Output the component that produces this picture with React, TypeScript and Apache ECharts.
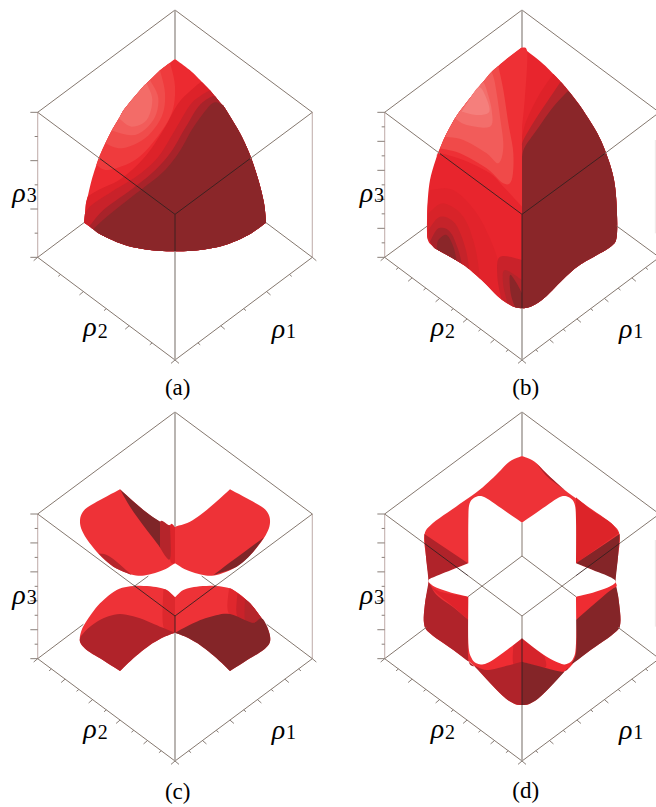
import React, { useEffect, useRef } from "react";
import * as echarts from "echarts";

type P = [number, number];
type Face = { fill: string; segs: P[][] };
type L = [number, number, number, number];

const RED = "#ec2a30", BRIGHT = "#ee3237", DARK = "#8a2629", DARKL = "#a8232a", MID = "#c9222a", DEEP = "#dd2229";

// ---- panel (a) ----
const aR: P[] = [[525,177],[540,188],[575,215],[605,245],[630,271],[645,289],[665,313],[675,325],[720,400],[750,465],[775,540],[792,610],[798,668]];
const aBot: P[] = [[798,668],[745,705],[675,735],[600,750],[525,754],[450,750],[375,735],[305,705],[280,688],[268,679],[252,668]];
const aL: P[] = [[252,668],[255,640],[258,610],[263,590],[275,540],[289,495],[300,465],[316,430],[335,392],[357,355],[375,325],[425,265],[440,250],[450,240],[480,211],[510,188],[525,177]];
const fromVertex = (arc: P[], v: P) => arc.slice(arc.findIndex((p) => p[0] === v[0] && p[1] === v[1]));
const toVertex = (arc: P[], v: P) => arc.slice(0, arc.findIndex((p) => p[0] === v[0] && p[1] === v[1]) + 1);
const aFill = (fill: string, inner: P[]): Face => {
  const s = inner[0], e = inner[inner.length - 1];
  const onLeft = aL.some((p) => p[0] === e[0] && p[1] === e[1]);
  return {
    fill,
    segs: onLeft
      ? [inner, toVertex(aL, e).reverse(), [...aBot].reverse(), fromVertex(aR, s).reverse()]
      : [inner, toVertex(aBot, e).reverse(), fromVertex(aR, s).reverse()],
  };
};
const aLight = (fill: string, start: P, end: P, inner: P[]): Face => ({
  fill,
  segs: [fromVertex(toVertex(aL, start), end), [start, ...inner, end]],
});
const aFaces: Face[] = [
  { fill: RED, segs: [aR, aBot, aL] },
  aFill(DEEP, [[605,245],[585,260],[535,310],[490,390],[435,470],[365,535],[295,570],[263,590]]),
  aFill(MID, [[630,271],[605,285],[570,315],[525,390],[475,470],[415,525],[335,575],[275,615],[255,640]]),
  aFill(DARKL, [[645,289],[630,292],[595,320],[555,385],[510,460],[455,520],[385,575],[310,630],[268,679]]),
  aFill(DARK, [[665,313],[640,308],[610,340],[575,390],[535,460],[485,520],[415,575],[345,630],[300,668],[280,688]]),
  aLight("#ef3b3d", [510,188], [289,495], [[525,260],[515,340],[465,420],[405,480],[325,510]]),
  aLight("#f04c4b", [480,211], [316,430], [[495,280],[485,350],[435,415],[365,445]]),
  aLight("#f25c5a", [450,240], [335,392], [[475,295],[460,360],[405,405]]),
  aLight("#f36c68", [440,250], [357,355], [[457,300],[440,360],[395,380]]),
];
const aGrey: L[] = [[113,337,300,476],[937,337,750,476],[252,668,113,772],[798,668,937,772],[525,30,113,337],[525,30,937,337],[113,772,525,1080],[525,1080,937,772]];
const aDarkLines: L[] = [[300,476,525,643],[750,476,525,643],[525,643,525,754]];
const aThick: L[] = [[525,30,525,177],[525,754,525,1080]];
const aPink: L[] = [[113,337,113,772],[937,337,937,772]];

// ---- panel (b) ----
const bR: P[] = [[582,142],[638,185],[676,222],[698,245],[721,272],[758,320],[808,400],[838,470],[858,540],[866,620],[866,710],[848,740],[798,770],[748,800],[698,845],[648,895],[608,920],[582,925]];
const bL: P[] = [[582,925],[556,920],[516,895],[466,845],[456,836],[424,808],[416,800],[401,791],[386,782],[366,770],[326,748],[316,740],[306,725],[298,710],[298,690],[298,620],[306,540],[326,470],[336,445],[351,410],[356,400],[381,355],[406,320],[451,262],[466,245],[491,215],[511,198],[526,185],[582,142]];
const bRLower: P[] = [[582,925],[608,920],[648,895],[698,845],[748,800],[798,770],[848,740],[866,710],[866,620],[858,540],[838,470],[808,400],[758,320]];
const bFaces: Face[] = [
  { fill: "#e8252d", segs: [bR, bL] },
  { fill: "#ee3035", segs: [[[326,470],[336,445],[351,410],[381,355],[406,320],[466,245],[526,185],[582,142]], [[582,142],[598,160],[590,300],[582,380]], [[582,380],[582,620]], [[582,620],[526,560],[486,520],[406,480],[336,460],[326,470]]] },
  { fill: "#f04a49", segs: [[[336,445],[351,410],[381,355],[406,320],[466,245],[491,215],[511,198]], [[511,198],[526,270],[541,370],[556,460],[551,540],[526,550],[476,505],[396,460],[336,445]]] },
  { fill: "#f25c5a", segs: [[[351,410],[381,355],[406,320],[466,245],[491,215]], [[491,215],[501,250],[516,350],[526,440],[511,490],[476,460],[406,420],[351,410]]] },
  { fill: "#f36e6b", segs: [[[381,355],[406,320],[451,262],[466,245]], [[466,245],[476,270],[491,330],[486,380],[416,375],[381,355]]] },
  { fill: "#f57f7c", segs: [[[401,335],[420,305],[451,262],[471,285],[484,335],[446,345],[401,335]]] },
  { fill: "#de2229", segs: [[[676,222],[636,280],[596,360],[582,410]], [[582,410],[582,925]], bRLower, [[758,320],[721,272],[698,245],[676,222]]] },
  { fill: "#b5252b", segs: [[[698,245],[671,285],[621,360],[586,420],[582,440]], [[582,440],[582,925]], bRLower, [[758,320],[721,272],[698,245]]] },
  { fill: DARK, segs: [[[721,272],[676,320],[626,390],[591,440],[582,470]], [[582,470],[582,925]], bRLower, [[758,320],[721,272]]] },
  { fill: "#e2232b", segs: [[[306,570],[376,570],[446,640],[496,740],[526,840],[540,908]], [[540,908],[516,895],[466,845],[416,800],[366,770],[316,740],[298,710],[299,620],[306,570]]] },
  { fill: "#d82329", segs: [[[301,640],[346,610],[406,650],[441,740],[456,836]], [[456,836],[424,808],[401,791],[366,770],[326,748],[316,740],[306,725],[298,710],[301,640]]] },
  { fill: "#c5232a", segs: [[[301,690],[336,650],[381,670],[411,740],[424,808]], [[424,808],[401,791],[366,770],[326,748],[316,740],[306,725],[301,690]]] },
  { fill: DARKL, segs: [[[306,725],[331,685],[366,695],[391,750],[401,791]], [[401,791],[386,782],[366,770],[326,748],[316,740],[306,725]]] },
  { fill: DARK, segs: [[[326,748],[331,720],[356,705],[376,740],[386,782]], [[386,782],[366,770],[326,748]]] },
  { fill: MID, segs: [[[520,898],[508,830],[516,770],[582,780]], [[582,780],[582,925]], [[582,925],[556,920],[520,898]]] },
  { fill: "#b5252b", segs: [[[538,908],[525,850],[531,810],[582,840]], [[582,840],[582,925]], [[582,925],[556,920],[538,908]]] },
  { fill: DARK, segs: [[[561,922],[548,880],[546,825],[566,850],[582,880]], [[582,880],[582,925]]] },
];
const bGrey: L[] = [[582,30,170,337],[582,30,994,337],[170,772,582,1080],[582,1080,994,772],[170,337,336,461],[994,337,830,461],[298,678,170,772],[866,678,994,772]];
const bDarkLines: L[] = [[336,461,582,643],[830,461,582,643],[582,643,582,925]];
const bThick: L[] = [[582,30,582,142],[582,925,582,1080]];
const bPink: L[] = [[170,337,170,772]];
const bPale: L[] = [[982,420,982,700]];

// ---- panel (c) ----
const cTopLeft: P[] = [[360,268],[300,300],[255,328],[240,360],[250,400],[290,455],[340,500],[400,525],[440,525],[490,510],[525,490]];
const cTopLeftBack: P[] = [[525,380],[480,365],[430,330],[360,268]];
const cTopRight: P[] = [[690,268],[750,300],[795,328],[810,360],[800,400],[760,455],[710,500],[650,525],[610,525],[560,510],[525,490]];
const cTopRightBack: P[] = [[525,380],[570,365],[620,330],[690,268]];
const cLowLeftUpper: P[] = [[525,592],[500,570],[460,560],[400,558],[350,570],[300,610],[265,655],[245,690],[240,725],[260,750],[300,775],[360,813]];
const cLowLeftLower: P[] = [[360,813],[400,775],[450,735],[490,712],[525,698]];
const cLowRightUpper: P[] = [[525,592],[550,570],[590,560],[650,558],[700,570],[750,610],[785,655],[805,690],[810,725],[790,750],[750,775],[690,813]];
const cLowRightLower: P[] = [[690,813],[650,775],[600,735],[560,712],[525,698]];
const cFaces: Face[] = [
  { fill: BRIGHT, segs: [cTopLeft, [[525,490],[525,380]], cTopLeftBack] },
  { fill: BRIGHT, segs: [cTopRight, [[525,490],[525,380]], cTopRightBack] },
  { fill: "#dd242a", segs: [[[525,380],[510,378],[510,478],[525,490]]] },
  { fill: "#b5252b", segs: [[[505,376],[480,365],[478,440]], [[478,440],[510,478],[510,376]]] },
  { fill: "#7f2528", segs: [[[360,268],[400,335],[480,442]], [[480,442],[480,365]], [[480,365],[430,330],[360,268]]] },
  { fill: "#b5252b", segs: [[[295,460],[330,470],[395,525]], [[395,525],[340,500],[295,460]]] },
  { fill: "#7f2528", segs: [[[792,412],[700,480],[640,525]], [[640,525],[710,500],[760,455],[800,400]]] },
  { fill: BRIGHT, segs: [cLowLeftUpper, cLowLeftLower, [[525,698],[525,592]]] },
  { fill: BRIGHT, segs: [cLowRightUpper, cLowRightLower, [[525,698],[525,592]]] },
  { fill: "#dd282d", segs: [[[490,568],[500,570],[525,592]], [[525,592],[525,698]], [[525,698],[490,680],[490,568]]] },
  { fill: "#e0272d", segs: [[[687,565],[700,570],[750,610],[785,655]], [[785,655],[756,668],[687,642],[687,565]]] },
  { fill: MID, segs: [[[712,580],[750,610],[785,655]], [[785,655],[756,668],[712,650],[712,580]]] },
  { fill: "#b5252b", segs: [[[735,598],[750,610],[785,655]], [[785,655],[756,668],[735,660],[735,598]]] },
  { fill: "#b0232a", segs: [[[243,708],[270,680],[310,655],[360,642],[420,655],[480,680],[525,698]], [...cLowLeftLower].reverse(), [[360,813],[300,775],[260,750],[240,725],[243,708]]] },
  { fill: "#842528", segs: [[[525,698],[590,665],[640,648],[690,642],[756,668],[785,655],[805,690],[810,725],[790,750],[750,775],[690,813]], cLowRightLower] },
];
const cGrey: L[] = [[525,36,113,342],[525,36,937,342],[113,776,525,1083],[525,1083,937,776],[113,342,400,555],[937,342,650,555],[445,528,400,561],[605,528,650,561],[250,673,113,776],[800,673,937,776]];
const cDarkLines: L[] = [[400,555,525,648],[650,555,525,648],[525,648,525,698]];
const cThick: L[] = [[525,36,525,380],[525,698,525,1083]];
const cPink: L[] = [[113,342,113,776],[937,342,937,776]];

// ---- panel (d) ----
const dOutline: P[] = [[582,168],[620,185],[660,225],[710,270],[780,320],[850,370],[875,405],[870,470],[862,545],[872,600],[877,670],[858,700],[788,750],[723,800],[648,880],[608,910],[582,915],[556,910],[516,880],[441,800],[376,750],[306,700],[288,670],[291,610],[302,545],[294,470],[289,405],[314,370],[384,320],[454,270],[504,225],[544,185],[582,168]];
const dFaces: Face[] = [
  { fill: BRIGHT, segs: [dOutline] },
  { fill: "#dd2429", segs: [[[744,292],[790,330],[850,370],[872,400]], [[872,400],[744,490]]] },
  { fill: "#a8232a", segs: [[[625,190],[660,225],[710,270]], [[710,270],[660,232],[625,190]]] },
  { fill: "#b0232a", segs: [[[289,402],[420,490]], [[420,490],[370,510],[302,545]], [[302,545],[294,470],[289,402]]] },
  { fill: "#842528", segs: [[[875,402],[744,490]], [[744,490],[794,510],[862,545]], [[862,545],[870,470],[875,402]]] },
  { fill: "#e0232b", segs: [[[301,550],[336,575],[421,590]], [[421,590],[421,660]], [[421,660],[376,620],[326,580],[301,550]]] },
  { fill: "#b0232a", segs: [[[302,545],[326,585],[376,622],[421,660]], [[421,660],[421,780],[441,800]], [[441,800],[376,750],[306,700],[288,670],[291,610],[302,545]]] },
  { fill: "#ef2c32", segs: [[[744,590],[800,578],[861,545]], [[861,545],[865,560],[836,580]], [[836,580],[744,660]]] },
  { fill: "#842528", segs: [[[744,660],[836,580],[865,560]], [[865,560],[872,600],[877,670],[858,700],[788,750],[723,800]], [[723,800],[744,760],[744,660]]] },
  { fill: "#ef2c32", segs: [[[441,798],[476,790],[516,765],[582,715]], [[582,715],[582,785]], [[582,785],[526,800],[476,810],[441,798]]] },
  { fill: "#d5242b", segs: [[[556,735],[582,715]], [[582,715],[582,785]], [[582,785],[556,792],[556,735]]] },
  { fill: "#ee2a30", segs: [[[640,760],[696,790],[736,790]], [[736,790],[706,815],[656,805],[640,800],[640,760]]] },
  { fill: "#d5242b", segs: [[[582,715],[620,745],[650,770]], [[650,770],[650,803],[582,785]]] },
  { fill: "#b0232a", segs: [[[441,798],[476,810],[526,800],[582,785]], [[582,785],[582,915]], [[582,915],[556,910],[516,880],[441,800]]] },
  { fill: "#842528", segs: [[[582,785],[656,805],[706,815],[723,800]], [[723,800],[648,880],[608,910],[582,915]]] },
  { fill: "#ffffff", segs: [
    [[582,368],[520,325],[470,292],[445,290],[425,310],[421,360],[421,490]],
    [[421,490],[370,510],[320,530],[301,542],[320,560],[370,578],[421,590]],
    [[421,590],[421,730],[431,775],[451,792],[476,790],[516,765],[582,715]],
    [[582,715],[648,765],[696,790],[716,792],[736,775],[744,730],[744,590]],
    [[744,590],[794,578],[844,560],[863,545],[844,530],[794,510],[744,490]],
    [[744,490],[744,360],[739,310],[719,290],[694,292],[644,325],[582,368]],
  ] },
];
const dGrey: L[] = [[582,36,170,342],[582,36,994,342],[170,776,582,1083],[582,1083,994,776],[170,342,289,430],[994,342,875,430],[420,527,582,648],[744,527,582,648],[582,368,582,468],[582,468,420,590],[582,468,744,590],[295,682,170,776],[870,682,994,776],[582,648,582,715]];
const dDarkLines: L[] = [[289,430,420,527],[875,430,744,527],[582,715,582,915]];
const dThick: L[] = [[582,36,582,168],[582,915,582,1083]];
const dPink: L[] = [[170,342,170,776]];
const dPale: L[] = [[982,420,982,680]];

// ---- axis tick counts and cube corners [left, centre, right, upper, lower, bottom] ----
const aCube = [113, 525, 937, 337, 772, 1080];
const bCube = [170, 582, 994, 337, 772, 1080];
const cCube = [113, 525, 937, 342, 776, 1083];
const dCube = [170, 582, 994, 342, 776, 1083];
const tickCounts = [6, 10, 10, 10];

// ---- texts ----
const rhoLabels = ["ρ", "ρ", "ρ"];
const subLabels = ["3", "2", "1"];
const captions = ["(a)", "(b)", "(c)", "(d)"];
const rhoPosA: P[] = [[37,578],[250,980],[815,984]];
const subPosA: P[] = [[80,586],[293,992],[858,992]];
const rhoPosB: P[] = [[95,578],[308,980],[873,984]];
const subPosB: P[] = [[138,586],[351,992],[916,992]];
const rhoPosC: P[] = [[37,582],[250,985],[815,989]];
const subPosC: P[] = [[80,590],[293,997],[858,997]];
const rhoPosD: P[] = [[95,582],[308,985],[873,989]];
const subPosD: P[] = [[138,590],[351,997],[916,997]];
const captionPos: P[] = [[533,1163],[593,1163],[533,1173],[593,1170]];

function sample(seg: P[]): P[] {
  if (seg.length < 3) return seg;
  const out: P[] = [];
  for (let i = 0; i < seg.length - 1; i++) {
    const p0 = seg[Math.max(0, i - 1)], p1 = seg[i], p2 = seg[i + 1], p3 = seg[Math.min(seg.length - 1, i + 2)];
    for (let k = 0; k < 6; k++) {
      const t = k / 6, t2 = t * t, t3 = t2 * t;
      out.push([
        0.5 * (2 * p1[0] + (p2[0] - p0[0]) * t + (2 * p0[0] - 5 * p1[0] + 4 * p2[0] - p3[0]) * t2 + (3 * p1[0] - p0[0] - 3 * p2[0] + p3[0]) * t3),
        0.5 * (2 * p1[1] + (p2[1] - p0[1]) * t + (2 * p0[1] - 5 * p1[1] + 4 * p2[1] - p3[1]) * t2 + (3 * p1[1] - p0[1] - 3 * p2[1] + p3[1]) * t3),
      ]);
    }
  }
  out.push(seg[seg.length - 1]);
  return out;
}

function ticks(cube: number[], n: number) {
  const [l, c, r, u, lo, b] = cube;
  const out: L[] = [];
  for (let i = 0; i <= n; i++) {
    const f = i / n;
    const isMajor = i % 2 === 0;
    const yLeft = u + (lo - u) * f;
    out.push([l, yLeft, l - (isMajor ? 22 : 9), yLeft]);
    const len = isMajor ? 12 : 7;
    const x2 = l + (c - l) * f, y2 = lo + (b - lo) * f;
    out.push([x2, y2, x2 - len, y2 + len * 0.85]);
    const x1 = c + (r - c) * f, y1 = b + (lo - b) * f;
    out.push([x1, y1, x1 + len, y1 + len * 0.85]);
  }
  return out;
}

function faceSeries(idx: number, faces: Face[]) {
  return {
    type: "custom", xAxisIndex: idx, yAxisIndex: idx, silent: true, clip: false, z: 2,
    data: faces.map((_, i) => [i]),
    renderItem: (params: any, api: any) => {
      const f = faces[params.dataIndex];
      const pts: number[][] = [];
      f.segs.forEach((s) => sample(s).forEach((p) => pts.push(api.coord(p))));
      return { type: "polygon", shape: { points: pts }, style: { fill: f.fill } };
    },
  };
}

function lineSeries(idx: number, lines: L[], color: string, width: number) {
  return {
    type: "custom", xAxisIndex: idx, yAxisIndex: idx, silent: true, clip: false, z: 3,
    data: lines,
    renderItem: (_: any, api: any) => {
      const a = api.coord([api.value(0), api.value(1)]);
      const b = api.coord([api.value(2), api.value(3)]);
      return { type: "line", shape: { x1: a[0], y1: a[1], x2: b[0], y2: b[1] }, style: { stroke: color, lineWidth: width, fill: null } };
    },
  };
}

function textSeries(idx: number, items: string[], pos: P[], font: string, align: string) {
  return {
    type: "custom", xAxisIndex: idx, yAxisIndex: idx, silent: true, clip: false, z: 5,
    data: pos,
    renderItem: (params: any, api: any) => {
      const a = api.coord([api.value(0), api.value(1)]);
      return { type: "text", style: { text: items[params.dataIndex], x: a[0], y: a[1], font, fill: "#000", align, verticalAlign: "middle" } };
    },
  };
}

const panels = [
  { faces: aFaces, grey: aGrey, dark: aDarkLines, thick: aThick, pink: aPink, pale: [] as L[], cube: aCube, rho: rhoPosA, sub: subPosA },
  { faces: bFaces, grey: bGrey, dark: bDarkLines, thick: bThick, pink: bPink, pale: bPale, cube: bCube, rho: rhoPosB, sub: subPosB },
  { faces: cFaces, grey: cGrey, dark: cDarkLines, thick: cThick, pink: cPink, pale: [] as L[], cube: cCube, rho: rhoPosC, sub: subPosC },
  { faces: dFaces, grey: dGrey, dark: dDarkLines, thick: dThick, pink: dPink, pale: dPale, cube: dCube, rho: rhoPosD, sub: subPosD },
];

const RHO_FONT = 'italic 28px "Liberation Serif"';
const SUB_FONT = '20px "Liberation Serif"';
const CAP_FONT = '23px "Liberation Serif"';

export default function App() {
  const ref = useRef<HTMLDivElement>(null);
  useEffect(() => {
    if (!ref.current) return;
    const chart = echarts.init(ref.current, undefined, { renderer: "svg" });
    const series: any[] = [];
    panels.forEach((p, i) => {
      series.push(lineSeries(i, p.pale, "#eee6e6", 1));
      series.push(lineSeries(i, p.pink, "#c9b8b6", 1.2));
      series.push(faceSeries(i, p.faces));
      series.push(lineSeries(i, ticks(p.cube, tickCounts[i]), "#7c706a", 0.9));
      series.push(lineSeries(i, p.grey, "#85786f", 1));
      series.push(lineSeries(i, p.thick, "#a8a29e", 1.6));
      series.push(lineSeries(i, p.dark, "#35201f", 0.9));
      series.push(textSeries(i, rhoLabels, p.rho, RHO_FONT, "left"));
      series.push(textSeries(i, subLabels, p.sub, SUB_FONT, "left"));
      series.push(textSeries(i, [captions[i]], [captionPos[i]], CAP_FONT, "center"));
    });
    chart.setOption({
      animation: false,
      backgroundColor: "#ffffff",
      grid: [
        { left: 0, top: 0, width: 328, height: 400 },
        { left: 328, top: 0, width: 328, height: 400 },
        { left: 0, top: 400, width: 328, height: 407 },
        { left: 328, top: 400, width: 328, height: 407 },
      ],
      xAxis: [0, 1, 2, 3].map((g) => ({ type: "value", gridIndex: g, min: 0, max: 984, show: false })),
      yAxis: [0, 1, 2, 3].map((g) => ({ type: "value", gridIndex: g, min: 0, max: g < 2 ? 1200 : 1221, inverse: true, show: false })),
      series,
    });
    return () => chart.dispose();
  }, []);
  return <div ref={ref} style={{ position: "fixed", left: 0, top: 0, width: 656, height: 807 }} />;
}
